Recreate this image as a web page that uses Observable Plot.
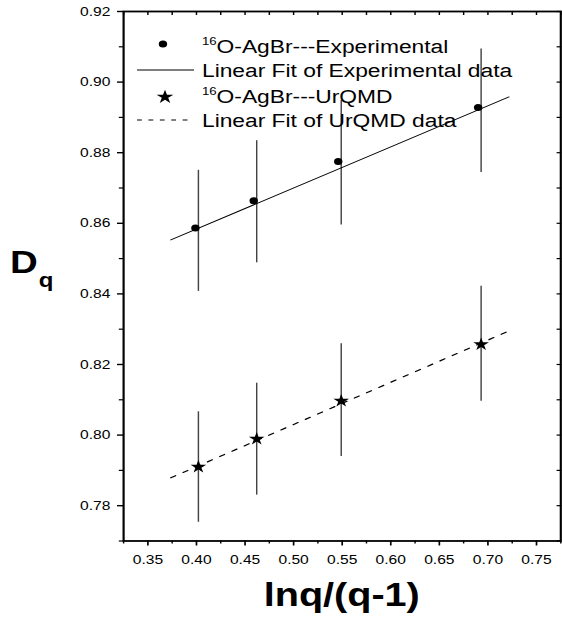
<!DOCTYPE html>
<html>
<head>
<meta charset="utf-8">
<script src="https://cdn.jsdelivr.net/npm/d3@7"></script>
<script src="https://cdn.jsdelivr.net/npm/@observablehq/plot@0.6"></script>
<style>
  html, body { margin: 0; padding: 0; background: white; overflow: hidden; }
  #wrap { position: relative; width: 468.33px; height: 621px; transform: scaleX(1.2); transform-origin: 0 0; }
  #wrap > svg { position: absolute; left: 0; top: 0; }
  #overlay { pointer-events: none; }
</style>
</head>
<body>
<div id="wrap"></div>
<script>
// ---- data ----
const xValues      = [0.402, 0.462, 0.549, 0.693];          // ln q/(q-1) for q = 5,4,3,2
const expValues    = [0.8587, 0.8664, 0.8775, 0.8928];
const expLow       = [0.8407, 0.8488, 0.8595, 0.8744];
const expHigh      = [0.8750, 0.8834, 0.8948, 0.9094];
const urqmdValues  = [0.7910, 0.7989, 0.8097, 0.8257];
const urqmdLow     = [0.7753, 0.7830, 0.7939, 0.8096];
const urqmdHigh    = [0.8066, 0.8147, 0.8259, 0.8422];
const fitX         = [0.3736, 0.7217];
const expFitY      = [0.8553, 0.8958];
const urqmdFitY    = [0.7879, 0.8295];
const xTicks       = [0.35, 0.40, 0.45, 0.50, 0.55, 0.60, 0.65, 0.70, 0.75];
const xMinorTicks  = [0.325, 0.375, 0.425, 0.475, 0.525, 0.575, 0.625, 0.675, 0.725, 0.775];
const yTicks       = [0.78, 0.80, 0.82, 0.84, 0.86, 0.88, 0.90, 0.92];
const yMinorTicks  = [0.77, 0.79, 0.81, 0.83, 0.85, 0.87, 0.89, 0.91];
const legendLabels = ["O-AgBr---Experimental", "Linear Fit of Experimental data", "O-AgBr---UrQMD", "Linear Fit of UrQMD data"];
const xLabel = "lnq/(q-1)";
const yLabel = "D";
const yLabelSub = "q";

const expData = xValues.map((x, i) => ({x, y: expValues[i], lo: expLow[i], hi: expHigh[i]}));
const urqData = xValues.map((x, i) => ({x, y: urqmdValues[i], lo: urqmdLow[i], hi: urqmdHigh[i]}));
const expFit = fitX.map((x, i) => ({x, y: expFitY[i]}));
const urqFit = fitX.map((x, i) => ({x, y: urqmdFitY[i]}));
const allX = xTicks.concat(xMinorTicks);
const allY = yTicks.concat(yMinorTicks);
const fmt = d3.format(".2f");
const blank = () => "";

const chart = Plot.plot({
  width: 468.33, height: 621,
  marginLeft: 102.5, marginRight: 1.5, marginTop: 11, marginBottom: 80.5,
  x: {domain: [0.325, 0.775]},
  y: {domain: [0.77, 0.92]},
  style: {fontFamily: "'Liberation Sans', Arial, sans-serif", fontSize: "13px", color: "#000", background: "white", overflow: "visible"},
  marks: [
    Plot.axisX({ticks: xTicks, tickSize: 5, tickPadding: 9, tickFormat: fmt, label: null, strokeWidth: 1.4, fontSize: 13}),
    Plot.axisX({ticks: xMinorTicks, tickSize: 3, tickFormat: blank, label: null, strokeWidth: 1.2}),
    Plot.axisX({anchor: "top", ticks: allX, tickSize: 3, dy: 3, tickFormat: blank, label: null, strokeWidth: 1.2}),
    Plot.axisY({ticks: yTicks, tickSize: 5, tickPadding: 6, tickFormat: fmt, label: null, strokeWidth: 1.4, fontSize: 13}),
    Plot.axisY({ticks: yMinorTicks, tickSize: 3.5, tickFormat: blank, label: null, strokeWidth: 1.2}),
    Plot.axisY({anchor: "right", ticks: allY, tickSize: 4, dx: -4, tickFormat: blank, label: null, strokeWidth: 1.2}),
    Plot.frame({stroke: "black", strokeWidth: 1.8}),
    Plot.ruleX(expData, {x: "x", y1: "lo", y2: "hi", stroke: "#444", strokeWidth: 1.2}),
    Plot.ruleX(urqData, {x: "x", y1: "lo", y2: "hi", stroke: "#444", strokeWidth: 1.2}),
    Plot.line(expFit, {x: "x", y: "y", stroke: "black", strokeWidth: 1}),
    Plot.line(urqFit, {x: "x", y: "y", stroke: "black", strokeWidth: 1.2, strokeDasharray: "4.5,7"}),
    Plot.dot(expData, {x: "x", y: "y", r: 3.5, fill: "black", dx: -2.5}),
    Plot.dot(urqData, {x: "x", y: "y", r: 4.1, symbol: "star", fill: "black"})
  ]
});
document.getElementById("wrap").appendChild(chart);

// ---- legend and axis titles (overlay, same coordinate space) ----
const ov = d3.select("#wrap").append("svg")
  .attr("id", "overlay").attr("width", 468.33).attr("height", 621)
  .style("font-family", "'Liberation Sans', Arial, sans-serif");

// legend symbols
ov.append("circle").attr("cx", 135.8).attr("cy", 44).attr("r", 3.5).attr("fill", "black");
ov.append("line").attr("x1", 114.2).attr("x2", 161.7).attr("y1", 70).attr("y2", 70).attr("stroke", "black").attr("stroke-width", 1);
ov.append("path").attr("d", d3.symbol(d3.symbolStar, Math.PI * 4.4 * 4.4)()).attr("transform", "translate(137.5,97)").attr("fill", "black");
ov.append("line").attr("x1", 114.2).attr("x2", 161.7).attr("y1", 120).attr("y2", 120).attr("stroke", "black").attr("stroke-width", 1.2).attr("stroke-dasharray", "4,5.5");

// legend text
const baselines = [53, 77, 103, 127];
legendLabels.forEach((lab, i) => {
  const t = ov.append("text").attr("x", 168.3).attr("y", baselines[i]).attr("font-size", 19).attr("fill", "black");
  if (i === 0 || i === 2) {
    t.append("tspan").attr("font-size", 11).attr("dy", -8).text("16");
    t.append("tspan").attr("dy", 8).text(lab);
  } else {
    t.text(lab);
  }
});

// y label: D with subscript q
const yl = ov.append("text").attr("x", 8.3).attr("y", 273).attr("font-size", 32).attr("font-weight", "bold").attr("fill", "black");
yl.append("tspan").text(yLabel);
yl.append("tspan").attr("font-size", 20).attr("dx", 1).attr("dy", 14).text(yLabelSub);

// x label
ov.append("text").attr("x", 284.8).attr("y", 606).attr("text-anchor", "middle")
  .attr("font-size", 33).attr("font-weight", "bold").attr("fill", "black").text(xLabel);
</script>
</body>
</html>
